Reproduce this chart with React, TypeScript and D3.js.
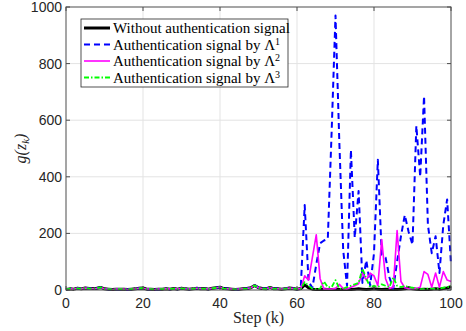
import React from "react";
import * as d3 from "d3";

// steps 0..100
const steps = d3.range(0, 101);

// shared low values for steps 0..60 (all series overlap there)
const early = [
  2, 4, 3, 6, 4, 7, 5, 5, 6, 9, 4, 3, 2, 3, 3, 3, 2, 3, 4, 6, 7, 3, 3, 2, 3, 3,
  4, 3, 5, 3, 6, 4, 3, 4, 6, 4, 5, 3, 6, 8, 10, 5, 4, 3, 2, 3, 4, 5, 8, 16, 8, 5,
  4, 9, 4, 4, 3, 4, 7, 5, 3,
];

// steps 61..100
const blackTail = [
  5, 18, 8, 3, 2, 2, 3, 2, 2, 3, 2, 2, 3, 2, 3, 4, 3, 2, 3, 4, 3, 2, 3, 2, 3, 2,
  3, 4, 8, 4, 3, 2, 3, 2, 3, 4, 3, 5, 7, 12,
];
const blueTail = [
  15, 300, 30, 8, 90, 165, 175, 180, 560, 970, 520, 140, 15, 495, 185, 350, 25,
  105, 15, 130, 460, 125, 115, 45, 5, 100, 190, 265, 205, 160, 580, 400, 685,
  230, 130, 190, 60, 230, 320, 90,
];
const magentaTail = [
  5, 50, 35, 115, 195, 40, 3, 3, 3, 5, 20, 5, 3, 10, 15, 22, 60, 35, 60, 50, 15,
  178, 40, 5, 10, 210, 30, 8, 5, 5, 5, 10, 65, 55, 10, 60, 10, 65, 35, 30,
];
const greenTail = [
  5, 28, 15, 5, 3, 5, 30, 10, 10, 35, 5, 5, 10, 15, 20, 25, 75, 40, 10, 15, 10,
  20, 15, 10, 45, 15, 10, 15, 10, 8, 5, 3, 3, 5, 5, 3, 5, 8, 10, 15,
];

const xTicks = [0, 20, 40, 60, 80, 100];
const yTicks = [0, 200, 400, 600, 800, 1000];

const series = [
  { name: "Without authentication signal", sup: "", values: early.concat(blackTail), color: "#000000", width: 3, dash: "" },
  { name: "Authentication signal by Λ", sup: "1", values: early.concat(blueTail), color: "#0000ff", width: 2, dash: "6,4" },
  { name: "Authentication signal by Λ", sup: "2", values: early.concat(magentaTail), color: "#ff00ff", width: 1.6, dash: "" },
  { name: "Authentication signal by Λ", sup: "3", values: early.concat(greenTail), color: "#00ff00", width: 1.8, dash: "5,2,1.5,2" },
];

const W = 466;
const H = 331;
const left = 66;
const right = 451;
const top = 7;
const bottom = 290;

const serifFont = "Times New Roman";
const sansFont = "Liberation Sans";

export default function App() {
  const x = d3.scaleLinear().domain([0, 100]).range([left, right]);
  const y = d3.scaleLinear().domain([0, 1000]).range([bottom, top]);
  const line = d3
    .line<number>()
    .x((_, i) => x(steps[i]))
    .y((d) => y(d));

  const axisColor = "#4d4d4d";

  return (
    <svg width={W} height={H} style={{ position: "absolute", left: 0, top: 0 }}>
      <rect x={0} y={0} width={W} height={H} fill="#fff" />
      {xTicks.slice(1, -1).map((t) => (
        <line key={"gx" + t} x1={x(t)} x2={x(t)} y1={top} y2={bottom} stroke="#e3e3e3" />
      ))}
      {yTicks.slice(1, -1).map((t) => (
        <line key={"gy" + t} x1={left} x2={right} y1={y(t)} y2={y(t)} stroke="#e3e3e3" />
      ))}

      {series.map((s, i) => (
        <path
          key={i}
          d={line(s.values) || ""}
          fill="none"
          stroke={s.color}
          strokeWidth={s.width}
          strokeDasharray={s.dash}
          strokeLinejoin="round"
        />
      ))}

      <rect x={left} y={top} width={right - left} height={bottom - top} fill="none" stroke={axisColor} strokeWidth={1} />
      {xTicks.map((t) => (
        <g key={"tx" + t}>
          <line x1={x(t)} x2={x(t)} y1={bottom} y2={bottom - 4} stroke={axisColor} />
          <line x1={x(t)} x2={x(t)} y1={top} y2={top + 4} stroke={axisColor} />
          <text x={x(t)} y={bottom + 18} textAnchor="middle" fontFamily={sansFont} fontSize={14} fill="#262626">
            {t}
          </text>
        </g>
      ))}
      {yTicks.map((t) => (
        <g key={"ty" + t}>
          <line x1={left} x2={left + 4} y1={y(t)} y2={y(t)} stroke={axisColor} />
          <line x1={right} x2={right - 4} y1={y(t)} y2={y(t)} stroke={axisColor} />
          <text x={left - 4} y={y(t) + 5} textAnchor="end" fontFamily={sansFont} fontSize={14} fill="#262626">
            {t}
          </text>
        </g>
      ))}

      <text x={(left + right) / 2} y={323} textAnchor="middle" fontFamily={serifFont} fontSize={16} fill="#262626">
        Step (k)
      </text>
      <text
        transform={`translate(26,${(top + bottom) / 2}) rotate(-90)`}
        textAnchor="middle"
        fontFamily={serifFont}
        fontStyle="italic"
        fontSize={16}
        fill="#262626"
      >
        g(z<tspan fontSize={11} dy={3}>k</tspan>
        <tspan dy={-3}>)</tspan>
      </text>

      <rect x={81} y={19} width={207} height={68} fill="#fff" stroke="#262626" strokeWidth={0.8} />
      {series.map((s, i) => {
        const ry = 28 + i * 16.5;
        return (
          <g key={"lg" + i}>
            <line x1={84} x2={110} y1={ry} y2={ry} stroke={s.color} strokeWidth={s.width} strokeDasharray={s.dash} />
            <text x={113} y={ry + 5} fontFamily={serifFont} fontSize={15} fill="#000">
              {s.name}
              {s.sup && (
                <tspan fontSize={10} dy={-5}>
                  {s.sup}
                </tspan>
              )}
            </text>
          </g>
        );
      })}
    </svg>
  );
}
